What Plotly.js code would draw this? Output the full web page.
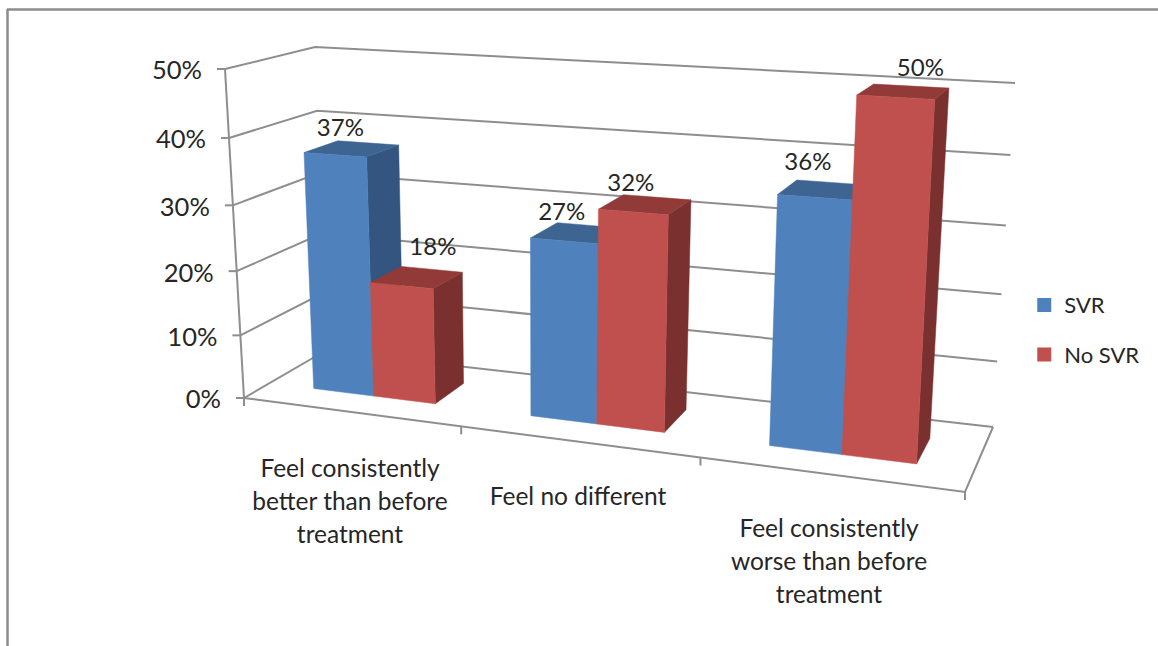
<!DOCTYPE html>
<html><head><meta charset="utf-8">
<script src="https://cdn.plot.ly/plotly-3.0.1.min.js"></script>
<style>html,body{margin:0;padding:0;background:#fff}#c{width:1158px;height:646px}</style>
</head><body><div id="c"></div>
<script>
// ---- data ----
const categoryLines = [
  ["Feel consistently", "better than before", "treatment"],
  ["Feel no different"],
  ["Feel consistently", "worse than before", "treatment"]
];
const seriesNames = ["SVR", "No SVR"];
const svrValues = [37, 27, 36];
const noSvrValues = [18, 32, 50];
const valueTicks = [0, 10, 20, 30, 40, 50];
const axisMax = 50;

// ---- styles / layout ----
const frontColors = ["#4F81BD", "#C0504D"];
const sideColors = ["#34557F", "#7A302E"];
const topColors = ["#3E6492", "#913A38"];
const gridColor = "#8E8E8E";
const textColor = "#262626";
const fontFamily = "Lato, 'Open Sans', sans-serif";
const valueFontSize = 24, tickFontSize = 25.5, categoryFontSize = 24.5, legendFontSize = 22;
// box corners on the page: front-left, front-right, back-right, back-left
const floorCorners = [[244,398],[965,492],[993,427],[325,351]];
const topCorners = [[225,69],[985,112],[1015,83],[315,47]];
const barWidth = 0.0952, barInset = 0.0714, depthFront = 0.3, depthBack = 0.7;
const labelOffsets = [[[-11.5,-19],[16,-28]],[[-15.5,-19],[-14.5,-19]],[[-16,-26],[17,-22]]];
const categoryCentres = [[350,471],[578,499],[829,531]];
const lineGap = 33;

function homography(q){
  const [[x0,y0],[x1,y1],[x2,y2],[x3,y3]] = q;
  const dx1=x1-x2,dx2=x3-x2,dx3=x0-x1+x2-x3,dy1=y1-y2,dy2=y3-y2,dy3=y0-y1+y2-y3;
  const den=dx1*dy2-dx2*dy1, g=(dx3*dy2-dx2*dy3)/den, h=(dx1*dy3-dx3*dy1)/den;
  const a=x1-x0+g*x1,b=x3-x0+h*x3,d=y1-y0+g*y1,e=y3-y0+h*y3;
  return (u,v)=>{const w=g*u+h*v+1;return [(a*u+b*v+x0)/w,(d*u+e*v+y0)/w];};
}
const floorMap = homography(floorCorners), topMap = homography(topCorners);
function project(u,v,val){
  const s = val/axisMax, t = s - 0.06*s*(1-s);
  const p = floorMap(u + 0.045*u*(1-u),v), q = topMap(u,v);
  return [p[0]+(q[0]-p[0])*t, p[1]+(q[1]-p[1])*t];
}

const traces = [];
function lines(segs, color, width){
  const x=[],y=[];
  segs.forEach(s=>{s.forEach(p=>{x.push(p[0]);y.push(p[1]);});x.push(null);y.push(null);});
  traces.push({type:"scatter",mode:"lines",x,y,line:{color,width},showlegend:false,hoverinfo:"skip"});
}
function polys(list,color){
  const x=[],y=[];
  list.forEach(s=>{s.forEach(p=>{x.push(p[0]);y.push(p[1]);});x.push(s[0][0],null);y.push(s[0][1],null);});
  traces.push({type:"scatter",mode:"lines",x,y,fill:"toself",fillcolor:color,line:{color,width:0.5},showlegend:false,hoverinfo:"skip"});
}
function texts(items,pos,size){
  traces.push({type:"scatter",mode:"text",x:items.map(i=>i[0]),y:items.map(i=>i[1]),text:items.map(i=>i[2]),
    textposition:pos,textfont:{family:fontFamily,size:size,color:textColor},showlegend:false,hoverinfo:"skip"});
}

// walls and floor
const grid=[];
valueTicks.forEach(t=>{ grid.push([project(0,0,t),project(0,1,t),project(1,1,t)]); });
grid.push([project(0,0,0),project(1,0,0),project(1,1,0)]);
grid.push([project(0,0,0),project(0,0,axisMax)]);
valueTicks.forEach(t=>{const p=project(0,0,t);grid.push([p,[p[0]-8,p[1]]]);});
[0,1,2,3].forEach(k=>{const p=project(k/3,0,0);grid.push([p,[p[0],p[1]+8]]);});
lines(grid,gridColor,2);

// bars
[svrValues,noSvrValues].forEach((vals,si)=>{
  const fronts=[],sides=[],tops=[];
  vals.forEach((v,ci)=>{
    const u0=ci/3+barInset+si*barWidth,u1=u0+barWidth;
    fronts.push([project(u0,depthFront,0),project(u1,depthFront,0),project(u1,depthFront,v),project(u0,depthFront,v)]);
    sides.push([project(u1,depthFront,0),project(u1,depthBack,0),project(u1,depthBack,v),project(u1,depthFront,v)]);
    tops.push([project(u0,depthFront,v),project(u1,depthFront,v),project(u1,depthBack,v),project(u0,depthBack,v)]);
  });
  polys(sides,sideColors[si]);polys(tops,topColors[si]);polys(fronts,frontColors[si]);
});

// value labels
const valItems=[];
[svrValues,noSvrValues].forEach((vals,si)=>vals.forEach((v,ci)=>{
  const u=ci/3+barInset+(si+0.5)*barWidth,p=project(u,0.5,v),o=labelOffsets[ci][si];
  valItems.push([p[0]+o[0],p[1]+o[1],v+"%"]);
}));
texts(valItems,"middle center",valueFontSize);

// axis labels
texts(valueTicks.map(t=>{const p=project(0,0,t);return [p[0]-23,p[1]+4,t+"%"];}),"middle left",tickFontSize);
const catItems=[];
categoryLines.forEach((ls,ci)=>ls.forEach((l,i)=>catItems.push([categoryCentres[ci][0],categoryCentres[ci][1]+i*lineGap,l])));
texts(catItems,"middle center",categoryFontSize);

// legend entries
seriesNames.forEach((n,i)=>traces.push({type:"scatter",mode:"markers",x:[null],y:[null],name:n,legendgroup:n,
  marker:{symbol:"square",size:14,color:frontColors[i]},hoverinfo:"skip"}));

Plotly.newPlot("c",traces,{
  width:1158,height:646,margin:{l:0,r:0,t:0,b:0},paper_bgcolor:"#fff",plot_bgcolor:"#fff",
  xaxis:{range:[0,1158],visible:false,fixedrange:true},
  yaxis:{range:[646,0],visible:false,fixedrange:true},
  legend:{x:0.8845,y:0.489,xanchor:"left",yanchor:"middle",tracegroupgap:18,
    font:{family:fontFamily,size:legendFontSize,color:textColor},bgcolor:"rgba(0,0,0,0)"},
  shapes:[
    {type:"line",xref:"x",yref:"y",x0:7,x1:1158,y0:9.5,y1:9.5,line:{color:"#8C8C8C",width:2.5}},
    {type:"line",xref:"x",yref:"y",x0:7.5,x1:7.5,y0:9,y1:646,line:{color:"#8C8C8C",width:2.5}}
  ]
},{displayModeBar:false,staticPlot:true});
</script></body></html>
